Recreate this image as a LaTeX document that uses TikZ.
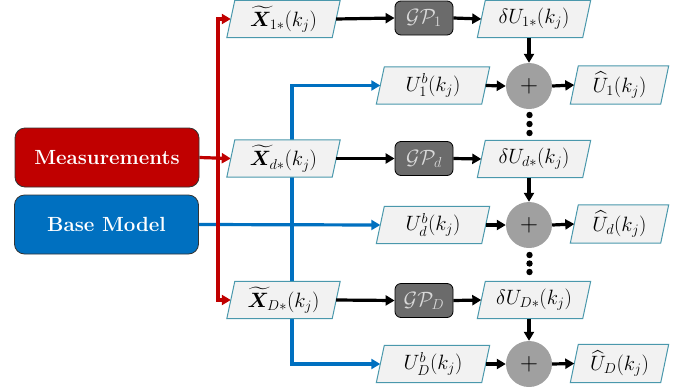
\documentclass[tikz,border=0pt]{standalone}
\usepackage{amsmath,amssymb,bm}
\usetikzlibrary{arrows.meta,calc}
\definecolor{measred}{HTML}{C00000}
\definecolor{baseblue}{HTML}{0070C0}
\definecolor{parafill}{HTML}{F2F2F2}
\definecolor{paraline}{HTML}{4A98AC}
\definecolor{gpfill}{HTML}{6B6B6B}
\definecolor{gptext}{HTML}{D9D9D9}
\definecolor{sumfill}{HTML}{A0A0A0}
\pgfdeclarelayer{bg}\pgfdeclarelayer{mid}\pgfsetlayers{bg,mid,main}
\begin{document}
\begin{tikzpicture}[x=1pt,y=-1pt,
 every node/.style={font=\fontsize{20.5}{24}\selectfont},
 srcbox/.style={rounded corners=10pt, draw=black!80, line width=0.8pt, minimum width=184pt, minimum height=59pt, text=white, font=\fontsize{20.5}{24}\selectfont\bfseries},
 parabox/.style={rectangle, minimum width=105pt, minimum height=37pt, inner sep=0pt},
 hatbox/.style={parabox, minimum width=90pt, minimum height=38pt},
 parashape/.style={draw=paraline, fill=parafill, line width=1pt, line join=miter},
 gpbox/.style={rounded corners=6pt, draw=black, line width=0.8pt, fill=gpfill, text=gptext, minimum width=58pt, minimum height=34pt, inner sep=0pt},
 sumnode/.style={circle, fill=sumfill, minimum size=46pt, inner sep=0pt, font=\fontsize{28}{32}\selectfont},
 flow/.style={line width=3.2pt, -{Triangle[length=9pt,width=10pt]}},
 redflow/.style={flow, draw=measred},
 blueflow/.style={flow, draw=baseblue},
 dotmark/.style={fill=black}
]
\useasboundingbox (0,0) rectangle (683,389);

% sources
\node[srcbox, fill=measred] (meas) at (107,157.5) {Measurements};
\node[srcbox, fill=baseblue] (base) at (106.5,224.5) {Base Model};

% inputs
\node[parabox] (x1) at (283.5,19) {$\widetilde{\boldsymbol{X}}_{1*}(k_j)$};
\node[parabox] (xd) at (283.5,158.5) {$\widetilde{\boldsymbol{X}}_{d*}(k_j)$};
\node[parabox] (xD) at (283.5,300) {$\widetilde{\boldsymbol{X}}_{D*}(k_j)$};

% GPs
\node[gpbox] (gp1) at (424,18) {$\mathcal{G}\mathcal{P}_1$};
\node[gpbox] (gpd) at (424,158.5) {$\mathcal{G}\mathcal{P}_d$};
\node[gpbox] (gpD) at (424,300.5) {$\mathcal{G}\mathcal{P}_D$};

% deltas
\node[parabox] (du1) at (534,19) {$\delta U_{1*}(k_j)$};
\node[parabox] (dud) at (534,159) {$\delta U_{d*}(k_j)$};
\node[parabox] (duD) at (534,300) {$\delta U_{D*}(k_j)$};

% base values
\node[parabox] (u1b) at (433,85.5) {$U_1^b(k_j)$};
\node[parabox] (udb) at (433,225) {$U_d^b(k_j)$};
\node[parabox] (uDb) at (433,364) {$U_D^b(k_j)$};

% sums
\node[sumnode] (c1) at (529,86) {$+$};
\node[sumnode] (c2) at (529,225) {$+$};
\node[sumnode] (c3) at (529,364) {$+$};

% outputs
\node[hatbox] (uh1) at (619.5,85) {$\widehat{U}_1(k_j)$};
\node[hatbox] (uhd) at (619.5,224) {$\widehat{U}_d(k_j)$};
\node[hatbox] (uhD) at (619.5,363.5) {$\widehat{U}_D(k_j)$};

% parallelogram outlines (between lines and text)
\begin{pgfonlayer}{mid}
\foreach \n in {x1,xd,xD,du1,dud,duD,u1b,udb,uDb,uh1,uhd,uhD}{
  \filldraw[parashape] ($(\n.north west)+(4,0)$) -- ($(\n.north east)+(4,0)$)
     -- ($(\n.south east)+(-4,0)$) -- ($(\n.south west)+(-4,0)$) -- cycle;
}
\end{pgfonlayer}

% coloured feeds (behind boxes)
\begin{pgfonlayer}{bg}
\coordinate (bj) at (292,225);
\draw[blueflow] (base.east) -- (udb.west);
\draw[blueflow] (bj) |- (u1b.west);
\draw[blueflow] (bj) |- (uDb.west);
\coordinate (rj) at (218,158.5);
\draw[redflow] (meas.east) -- (xd.west);
\draw[redflow] (rj) |- (x1.west);
\draw[redflow] (rj) |- (xD.west);
\end{pgfonlayer}

% black flows
\foreach \x/\g/\du/\ub/\c/\uh in {x1/gp1/du1/u1b/c1/uh1, xd/gpd/dud/udb/c2/uhd, xD/gpD/duD/uDb/c3/uhD}{
  \draw[flow] (\x.east) -- (\g.west);
  \draw[flow] (\g.east) -- (\du.west);
  \draw[flow] (\du.south -| \c) -- (\c.north);
  \draw[flow] (\ub.east) -- (\c.west);
  \draw[flow] (\c.east) -- (\uh.west);
}

% vertical ellipses
\foreach \yy in {115,124,133,255,263.5,272}{
  \fill[dotmark] (529.5,\yy) circle (3.2pt);
}
\end{tikzpicture}
\end{document}
